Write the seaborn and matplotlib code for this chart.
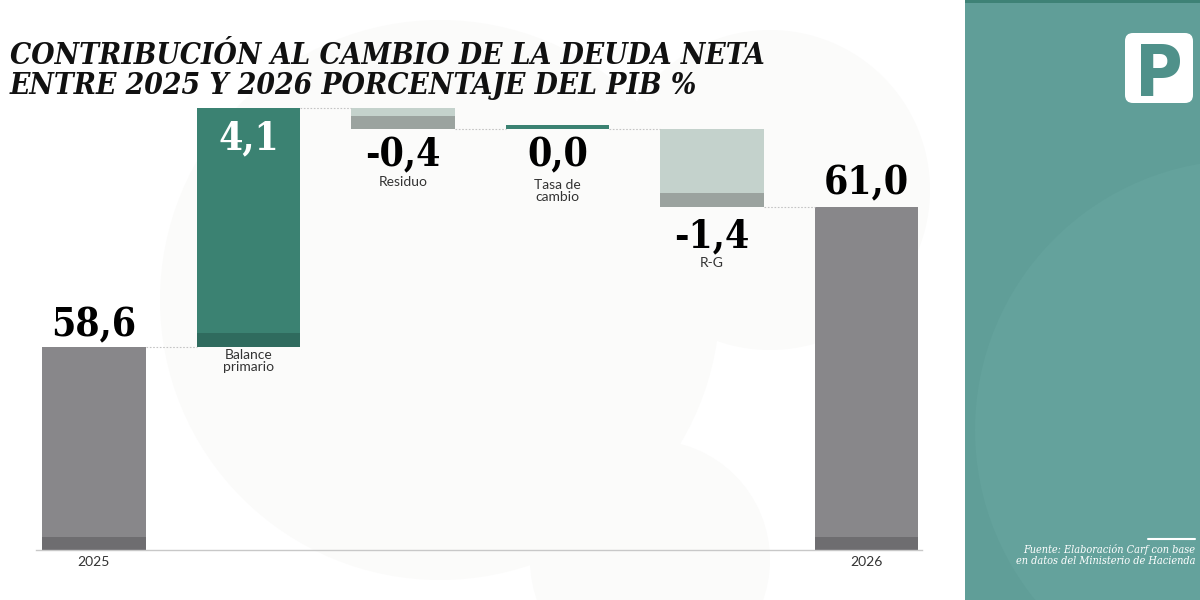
import numpy as np
import pandas as pd
import matplotlib
matplotlib.use("Agg")
import matplotlib.pyplot as plt
from matplotlib.patches import FancyBboxPatch, Circle, Rectangle
import seaborn as sns

# datos del gráfico
categorias = ["2025", "Balance\nprimario", "Residuo", "Tasa de\ncambio", "R-G", "2026"]
deuda_2025 = 58.6
deuda_2026 = 61.0
contribuciones = [4.1, -0.35, 0.0, -1.35]
etiquetas_valor = ["58,6", "4,1", "-0,4", "0,0", "-1,4", "61,0"]

# colores
gris, gris_osc = "#88878a", "#6e6d70"
verde, verde_osc = "#3b8272", "#2f6b5e"
verde_claro, gris_verde = "#c4d2cc", "#9ba39f"
teal = "#609e98"

sns.set_theme(style="white")
plt.rcParams["font.family"] = ["DejaVu Sans"]

fig = plt.figure(figsize=(12, 6), dpi=100)

# fondo con circulos tenues
bg = fig.add_axes([0, 0, 1, 1], zorder=0)
bg.set_xlim(0, 1200)
bg.set_ylim(600, 0)
bg.axis("off")
for cx, cy, r in [(440, 300, 280), (770, 190, 160), (650, 560, 120)]:
    bg.add_patch(Circle((cx, cy), r, color="#fbfbfa", lw=0))

# ejes principales
ax = fig.add_axes([36 / 1200, 50 / 600, 886 / 1200, 450 / 600], zorder=2)
ax.set_facecolor("none")

piso = 55.12
niveles = np.concatenate([[deuda_2025], deuda_2025 + np.cumsum(contribuciones)])
niveles[-1] = deuda_2026

base, alto = [piso], [deuda_2025 - piso]
for i, c in enumerate(contribuciones):
    antes, despues = niveles[i], niveles[i + 1]
    base.append(min(antes, despues))
    alto.append(max(abs(c), 0.06))
base.append(piso)
alto.append(deuda_2026 - piso)

banda = [0.22, 0.24, 0.22, 0.0, 0.24, 0.22]
df = pd.DataFrame({"categoria": categorias, "alto": alto, "base": base, "banda": banda})

ancho = 0.67
sns.barplot(data=df, x="categoria", y="alto", bottom=df["base"].values, width=ancho,
            errorbar=None, ax=ax, color=gris, saturation=1, linewidth=0)
sns.barplot(data=df, x="categoria", y="banda", bottom=df["base"].values, width=ancho,
            errorbar=None, ax=ax, color=gris_osc, saturation=1, linewidth=0)

colores = [gris, verde, verde_claro, verde, verde_claro, gris]
colores_banda = [gris_osc, verde_osc, gris_verde, verde, gris_verde, gris_osc]
for p, c in zip(ax.containers[0], colores):
    p.set_facecolor(c)
for p, c in zip(ax.containers[1], colores_banda):
    p.set_facecolor(c)

# conectores punteados
for i in range(5):
    ax.plot([i + ancho / 2, i + 1 - ancho / 2], [niveles[i], niveles[i]],
            ls=(0, (1.5, 1.5)), color="#c4c4c4", lw=0.8, zorder=1)

ax.set_xlim(-0.375, 5.36)
ax.set_ylim(piso, 62.84)
ax.set_xticks([0, 5], ["2025", "2026"])
ax.set_yticks([])
ax.tick_params(axis="x", length=0, pad=4, labelsize=10, labelcolor="#333333")
for t in ax.get_xticklabels():
    t.set_family("Lato")
ax.set_xlabel("")
ax.set_ylabel("")
for s in ["top", "right", "left"]:
    ax.spines[s].set_visible(False)
ax.spines["bottom"].set_color("#c8c8c8")
ax.spines["bottom"].set_linewidth(1)

# etiquetas de valor
anclas = [niveles[0], niveles[1], niveles[2], niveles[3], niveles[4], deuda_2026]
desplaz = [7.5, -30, -27, -27, -29, 9]
colores_txt = ["black", "white", "black", "black", "black", "black"]
for i in range(6):
    ax.annotate(etiquetas_valor[i], (i, anclas[i]), xytext=(0, desplaz[i]),
                textcoords="offset points", ha="center", va="baseline",
                family="DejaVu Serif", weight="bold", fontstretch="condensed",
                fontsize=28, color=colores_txt[i])

# nombres de las barras intermedias
anclas_nom = [niveles[0], niveles[2], niveles[3], niveles[4]]
desplaz_nom = [-1, -34, -36, -36]
for j, i in enumerate(range(1, 5)):
    ax.annotate(categorias[i], (i, anclas_nom[j]), xytext=(0, desplaz_nom[j]),
                textcoords="offset points", ha="center", va="top",
                family="Lato", fontsize=10, color="#333333",
                linespacing=1.0)

# titulo
for k, linea in enumerate(["CONTRIBUCIÓN AL CAMBIO DE LA DEUDA NETA",
                           "ENTRE 2025 Y 2026 PORCENTAJE DEL PIB %"]):
    fig.text(0.008, 1 - (64 + 30 * k) / 600, linea, family="DejaVu Serif",
             style="italic", weight="bold", fontstretch="condensed",
             fontsize=21.4, color="#111111", va="baseline")

# panel lateral
pan = fig.add_axes([965 / 1200, 0, 235 / 1200, 1], zorder=3)
pan.set_xlim(0, 235)
pan.set_ylim(600, 0)
pan.axis("off")
pan.add_patch(Rectangle((0, 0), 235, 600, color=teal, lw=0))
pan.add_patch(Circle((280, 430), 270, color="#64a29c", lw=0))
pan.add_patch(Rectangle((0, 0), 235, 3, color="#3e8276", lw=0))
pan.add_patch(FancyBboxPatch((165, 38), 58, 60, boxstyle="round,pad=5,rounding_size=8",
                             color="white", lw=0))
pan.text(194, 96, "P", ha="center", va="baseline", family="DejaVu Sans",
         weight="bold", fontstretch="condensed", fontsize=52, color="#4f918a")
pan.plot([183, 230], [539, 539], color="white", lw=1.5)
for k, linea in enumerate(["Fuente: Elaboración Carf con base",
                           "en datos del Ministerio de Hacienda"]):
    pan.text(230, 553 + 11 * k, linea, ha="right", va="baseline",
             family="DejaVu Serif", style="italic", fontstretch="condensed",
             fontsize=7.8, color="white")

fig.savefig("out.png", dpi=100)
